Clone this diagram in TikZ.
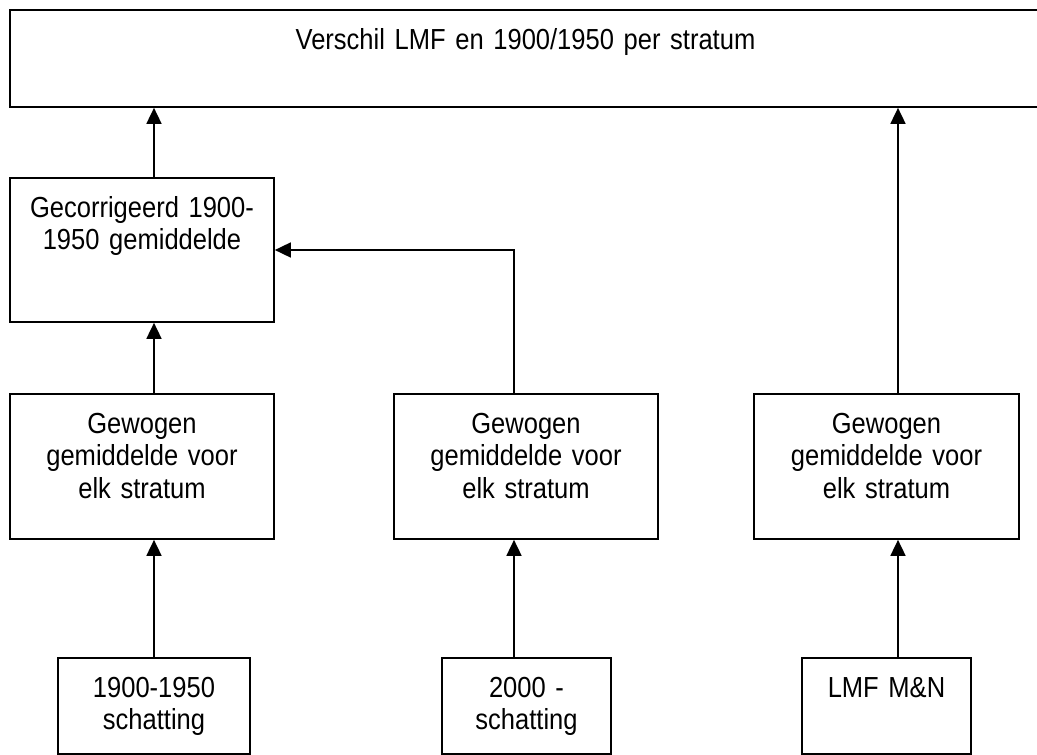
\documentclass[tikz,border=0pt]{standalone}
\usepackage{fontspec}
\setmainfont{Liberation Sans}[FakeStretch=0.88]
\usetikzlibrary{arrows.meta}

\begin{document}
\begin{tikzpicture}[>={Triangle[length=16pt,width=15pt]},x=1pt,y=-1pt,
                        box/.style={draw,line width=1.7pt,inner sep=0pt,align=center,
                            text height=39pt,font=\fontsize{29}{32.5}\selectfont},
                        arr/.style={->,line width=1.7pt}]
                        \useasboundingbox (0,0) rectangle (1037,755);
                        \clip (0,0) rectangle (1037,755);
                        % boxes
                        \node[box,text width=1031pt,text depth=58pt] (top) at (525.5,58.5)
                            {Verschil LMF en 1900/1950 per stratum};
                        \node[box,text width=264pt,text depth=105pt] (gc) at (142,250)
                            {Gecorrigeerd 1900-\\1950 gemiddelde};
                        \node[box,text width=264pt,text depth=106pt] (wl) at (142,466.5)
                            {Gewogen\\gemiddelde voor\\elk stratum};
                        \node[box,text width=264pt,text depth=106pt] (wm) at (526,466.5)
                            {Gewogen\\gemiddelde voor\\elk stratum};
                        \node[box,text width=265pt,text depth=106pt] (wr) at (886.5,466.5)
                            {Gewogen\\gemiddelde voor\\elk stratum};
                        \node[box,text width=192pt,text depth=57pt] (bl) at (154,706)
                            {1900-1950\\schatting};
                        \node[box,text width=169pt,text depth=57pt] (bm) at (526.5,706)
                            {2000 -\\schatting};
                        \node[box,text width=169pt,text depth=57pt] (br) at (886.5,706)
                            {LMF M\&N};
                        % arrow columns
                        \coordinate (cl) at (154,0);
                        \coordinate (cm) at (514,0);
                        \coordinate (cr) at (898,0);
                        \draw[arr] (cl |- bl.north) -- (cl |- wl.south);
                        \draw[arr] (cl |- wl.north) -- (cl |- gc.south);
                        \draw[arr] (cl |- gc.north) -- (cl |- top.south);
                        \draw[arr] (cm |- bm.north) -- (cm |- wm.south);
                        \draw[arr] (cm |- wm.north) |- (gc.east);
                        \draw[arr] (cr |- br.north) -- (cr |- wr.south);
                        \draw[arr] (cr |- wr.north) -- (cr |- top.south);
                    \end{tikzpicture}
\end{document}
